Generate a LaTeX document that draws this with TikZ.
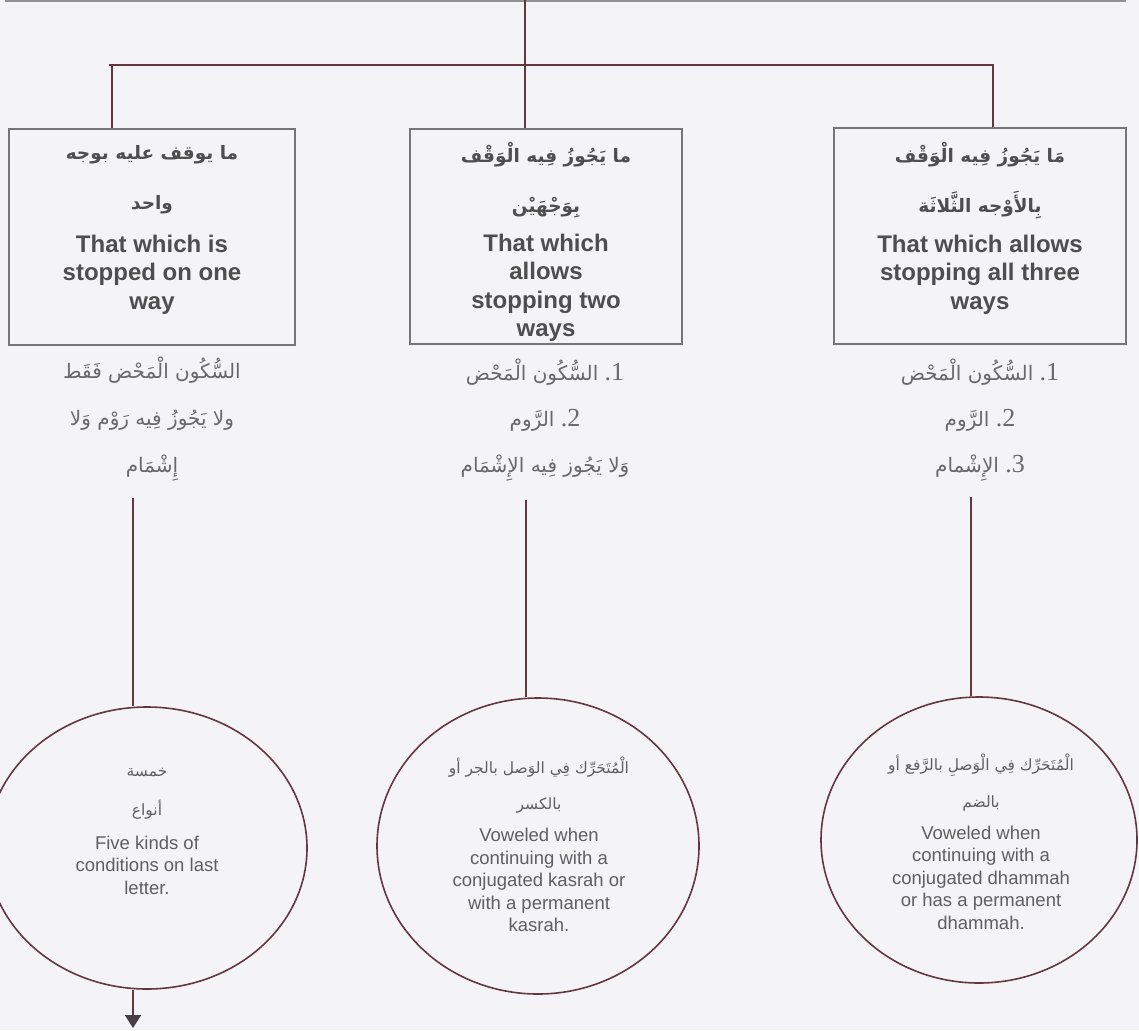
\documentclass[tikz,border=0pt]{standalone}
\usepackage{fontspec}
\setmainfont{Liberation Sans}
\newfontfamily\arab[Script=Arabic]{DejaVu Sans}
\newfontfamily\numf{Liberation Serif}
\TeXXeTstate=1
\usetikzlibrary{shapes.geometric,arrows.meta}
\definecolor{bgc}{HTML}{F4F4F6}
\definecolor{linec}{RGB}{100,55,62}
\definecolor{boxc}{RGB}{118,118,118}
\definecolor{textc}{RGB}{78,78,78}
\definecolor{subc}{RGB}{105,105,105}
\definecolor{circtext}{RGB}{95,95,95}
\definecolor{tipc}{RGB}{70,62,64}
\begin{document}
\begin{tikzpicture}[x=1pt,y=-1pt,
  conn/.style={draw=linec,line width=1.8pt},
  bar/.style={draw=linec,line width=2.8pt},
  topline/.style={draw=boxc!80,line width=2pt},
  boxn/.style={draw=boxc,line width=1.4pt,rectangle,inner sep=0pt},
  circn/.style={draw=linec,line width=1.6pt,ellipse,inner sep=0pt},
  entitle/.style={font=\fontsize{24}{28.5}\selectfont\bfseries,text=textc,align=center,inner sep=0pt},
  artitle/.style={font=\arab\bfseries\fontsize{18.5}{20}\selectfont,text=textc,inner sep=0pt},
  arsub/.style={font=\arab\fontsize{20}{22}\selectfont,text=subc,inner sep=0pt},
  encirc/.style={font=\fontsize{18.5}{22.5}\selectfont,text=circtext,align=center,inner sep=0pt},
  arcirc/.style={font=\arab\fontsize{15.5}{16}\selectfont,text=circtext,inner sep=0pt},
]
\fill[bgc] (0,0) rectangle (1139,1030);
\useasboundingbox (0,0) rectangle (1139,1030);

% boxes
\node[boxn,minimum width=286pt,minimum height=216pt] (b1) at (152,237) {};
\node[boxn,minimum width=272pt,minimum height=215pt] (b2) at (546,236.5) {};
\node[boxn,minimum width=292pt,minimum height=216pt] (b3) at (980,236) {};

% box texts
\node[artitle] (a11) at (152,155) {\beginR ما يوقف عليه بوجه\endR};
\node[artitle] (a12) at (152,205) {\beginR واحد\endR};
\node[entitle] (e1) at (152,274.5) {That which is\\stopped on one\\way};

\node[artitle] (a21) at (546,155) {\beginR ما يَجُوزُ فِيه الْوَقْف\endR};
\node[artitle] (a22) at (546,208) {\beginR بِوَجْهَيْن\endR};
\node[entitle] (e2) at (546,288) {That which\\allows\\stopping two\\ways};

\node[artitle] (a31) at (980,155) {\beginR مَا يَجُوزُ فِيه الْوَقْف\endR};
\node[artitle] (a32) at (980,205) {\beginR بِالأَوْجه الثَّلاثَة\endR};
\node[entitle] (e3) at (980,274.5) {That which allows\\stopping all three\\ways};

% texts below boxes
\node[arsub] (s11) at (152,370) {\beginR السُّكُون الْمَحْض فَقَط\endR};
\node[arsub] (s12) at (152,420) {\beginR ولا يَجُوزُ فِيه رَوْم وَلا\endR};
\node[arsub] (s13) at (152,468) {\beginR إِشْمَام\endR};

\node[arsub] (s21) at (545,372) {\beginR السُّكُون الْمَحْض\endR\ {\numf\fontsize{26}{26}\selectfont .1}};
\node[arsub] (s22) at (545,420) {\beginR الرَّوم\endR\ {\numf\fontsize{26}{26}\selectfont .2}};
\node[arsub] (s23) at (545,468) {\beginR وَلا يَجُوز فِيه الإِشْمَام\endR};

\node[arsub] (s31) at (980,372) {\beginR السُّكُون الْمَحْض\endR\ {\numf\fontsize{26}{26}\selectfont .1}};
\node[arsub] (s32) at (980,420) {\beginR الرَّوم\endR\ {\numf\fontsize{26}{26}\selectfont .2}};
\node[arsub] (s33) at (980,468) {\beginR الإِشْمام\endR\ {\numf\fontsize{26}{26}\selectfont .3}};

% circles
\node[circn,minimum width=320pt,minimum height=282pt] (c1) at (147,848) {};
\node[circn,minimum width=322pt,minimum height=296pt] (c2) at (538,846) {};
\node[circn,minimum width=316pt,minimum height=286pt] (c3) at (979,840) {};

\node[arcirc] (ca11) at (147,773) {\beginR خمسة\endR};
\node[arcirc] (ca12) at (147,810) {\beginR أنواع\endR};
\node[encirc] (ce1) at (147,865) {Five kinds of\\conditions on last\\letter.};

\node[arcirc] (ca21) at (539,767) {\beginR الْمُتَحَرِّك فِي الوَصل بالجر أو\endR};
\node[arcirc] (ca22) at (539,805) {\beginR بالكسر\endR};
\node[encirc] (ce2) at (539,880) {Voweled when\\continuing with a\\conjugated kasrah or\\with a permanent\\kasrah.};

\node[arcirc] (ca31) at (981,765) {\beginR الْمُتَحَرِّك فِي الْوَصلِ بالرَّفع أو\endR};
\node[arcirc] (ca32) at (981,803) {\beginR بالضم\endR};
\node[encirc] (ce3) at (981,877.5) {Voweled when\\continuing with a\\conjugated dhammah\\or has a permanent\\dhammah.};

% connectors
\coordinate (h1) at (5,1.5);
\coordinate (h2) at (1126,1.5);
\draw[topline] (h1) -- (h2);

\coordinate (t0) at (525,0);
\draw[conn] (t0) -- (t0 |- b2.north);
\coordinate (bl) at (109,65);
\coordinate (br) at (994,65);
\draw[bar] (bl) -- (br);
\coordinate (j1) at (112,65);
\draw[conn] (j1) -- (j1 |- b1.north);
\coordinate (j3) at (993,65);
\draw[conn] (j3) -- (j3 |- b3.north);

\coordinate (p1) at (133,498);
\draw[conn] (p1) -- (p1 |- c1.north);
\coordinate (p2) at (526,500);
\draw[conn] (p2) -- (p2 |- c2.north);
\coordinate (p3) at (971,497);
\draw[conn] (p3) -- (p3 |- c3.north);

\coordinate (q1) at (133,1028);
\draw[conn,-{Triangle[width=16pt,length=13pt,color=tipc]}] (p1 |- c1.south) -- (q1);
\end{tikzpicture}
\end{document}
